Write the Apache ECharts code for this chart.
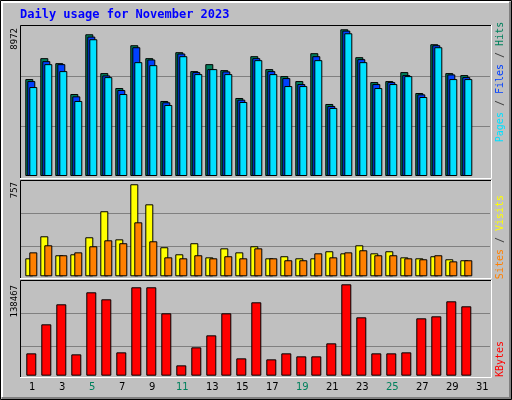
<!DOCTYPE html>
<html><head><meta charset="utf-8">
<script src="https://cdn.jsdelivr.net/npm/echarts@6/dist/echarts.min.js"></script>
<style>html,body{margin:0;padding:0;background:#c0c0c0}#c{width:512px;height:400px}</style>
</head><body><div id="c"></div>
<script>
var days = ['1','2','3','4','5','6','7','8','9','10','11','12','13','14','15','16','17','18','19','20','21','22','23','24','25','26','27','28','29','30','31'];
var weekendDays = ['4','5','11','12','18','19','25','26'];
var hits  = [5928,7207,6902,5014,8668,6293,5380,7998,7207,4588,7572,6415,6841,6476,4771,7328,6537,6110,5806,7511,4405,8972,7267,5745,5806,6354,5075,8059,6293,6171,null];
var files = [5806,7024,6841,4872,8526,6151,5258,7876,7125,4507,7491,6354,6537,6395,4669,7207,6415,5989,5623,7328,4283,8891,7146,5623,5745,6171,4994,7998,6212,6049,null];
var pages = [5440,6841,6415,4588,8364,6049,5014,6963,6780,4344,7328,6232,6537,6232,4527,7085,6232,5501,5501,7085,4162,8729,6963,5380,5623,6110,4831,7876,5928,5928,null];
var visits = [148,329,173,181,321,535,304,757,592,239,181,272,156,230,197,247,148,165,148,148,206,189,255,189,206,156,148,165,140,132,null];
var sites  = [197,255,173,197,247,296,272,444,288,156,148,173,148,165,148,230,148,132,132,189,156,197,214,173,173,148,140,173,123,132,null];
var kbytes = [33862,77832,108156,32346,126350,115737,35378,133931,133931,94510,15667,42959,61153,94510,26281,111188,24765,33862,29313,29313,49024,138467,88445,33862,33862,35378,86929,89961,112704,105123,null];
var maxLabels = ['8972','757','138467'];

var chart = echarts.init(document.getElementById('c'));
var L = 23.8, R = 23.2;
function xa(i, show){return {type:'category', gridIndex:i, data:days, boundaryGap:true,
  axisLine:{show:false}, axisTick:{show:false},
  axisLabel:{show:show, fontFamily:'DejaVu Sans', fontSize:10, margin:7, padding:[0,0,0,2],
    color:function(v){return weekendDays.indexOf(v)>=0?'#00805c':'#000';}}};}
function ya(i, max){return {type:'value', gridIndex:i, min:0, max:max, axisLabel:{show:false},
  axisLine:{show:false}, axisTick:{show:false}, splitLine:{show:false}};}
var bs = {borderColor:'#000', borderWidth:1};
function bar(name, data, color, xi, w, gap){return {type:'bar', name:name, data:data, xAxisIndex:xi, yAxisIndex:xi,
  barWidth:w, barGap:gap, itemStyle:Object.assign({color:color}, bs), animation:false};}
function hline(y){return {type:'line', shape:{x1:21,y1:y,x2:490,y2:y}, style:{stroke:'#808080', lineWidth:1}, z:-1};}
function box(t,b){return [
  {type:'polyline', shape:{points:[[20.5,b],[20.5,t+0.5],[491,t+0.5]]}, style:{stroke:'#000',fill:null,lineWidth:1}, z:5},
  {type:'polyline', shape:{points:[[491.5,t],[491.5,b+0.5],[20,b+0.5]]}, style:{stroke:'#fff',fill:null,lineWidth:1}, z:5}];}
function vtext(x,y,rich,txt,align){return {type:'text', x:x, y:y, rotation:Math.PI/2,
  style:{text:txt, rich:rich, align:align, verticalAlign:'middle', font:'9px "DejaVu Sans Mono"', fill:'#000'}};}
var mono = '10px "DejaVu Sans Mono"';
var graphics = [
  {type:'rect', shape:{x:0.5,y:0.5,width:511,height:399}, style:{fill:null, stroke:'#000', lineWidth:1}},
  {type:'polyline', shape:{points:[[2,397],[2,2],[509,2]]}, style:{stroke:'#fff',fill:null,lineWidth:2}},
  {type:'polyline', shape:{points:[[510,2],[510,398],[2,398]]}, style:{stroke:'#808080',fill:null,lineWidth:2}},
  {type:'text', x:20, y:15, style:{text:'Daily usage for November 2023', font:'bold 12px "DejaVu Sans Mono"', fill:'#0000ff', verticalAlign:'middle'}},
  hline(126.5), hline(76.5), hline(246.5), hline(213.5), hline(346.5), hline(313.5),
  vtext(15,28,null,maxLabels[0],'right'), vtext(15,182,null,maxLabels[1],'right'), vtext(15,285,null,maxLabels[2],'right'),
  {type:'text', x:500, y:82, rotation:Math.PI/2, style:{text:'{p|Pages} {s|/} {f|Files} {s|/} {h|Hits}', align:'center', verticalAlign:'middle', font:mono,
    rich:{p:{fill:'#00e0ff',font:mono},f:{fill:'#0040ff',font:mono},h:{fill:'#00805c',font:mono},s:{fill:'#404040',font:mono}}}},
  {type:'text', x:500, y:237, rotation:Math.PI/2, style:{text:'{a|Sites} {s|/} {b|Visits}', align:'center', verticalAlign:'middle', font:mono,
    rich:{a:{fill:'#ff8000',font:mono},b:{fill:'#ffff00',font:mono},s:{fill:'#404040',font:mono}}}},
  {type:'text', x:500, y:359, rotation:Math.PI/2, style:{text:'KBytes', align:'center', verticalAlign:'middle', font:mono, fill:'#ff0000'}}
].concat(box(25,178), box(180,278), box(280,377));

chart.setOption({
  animation:false, backgroundColor:'#c0c0c0',
  grid:[{left:L,right:R,top:25,height:151},{left:L,right:R,top:180,height:96.3},{left:L,right:R,top:280,height:95.7}],
  xAxis:[xa(0,false),xa(1,false),xa(2,true)],
  yAxis:[ya(0,9235),ya(1,792),ya(2,144981)],
  series:[
    bar('Hits',hits,'#00805c',0,8,'-75%'), bar('Files',files,'#0040ff',0,8,'-75%'), bar('Pages',pages,'#00e0ff',0,8,'-75%'),
    bar('Visits',visits,'#ffff00',1,8,'-50%'), bar('Sites',sites,'#ff8000',1,8,'-50%'),
    bar('KBytes',kbytes,'#ff0000',2,10,'0%')
  ],
  graphic:graphics
});
</script></body></html>
